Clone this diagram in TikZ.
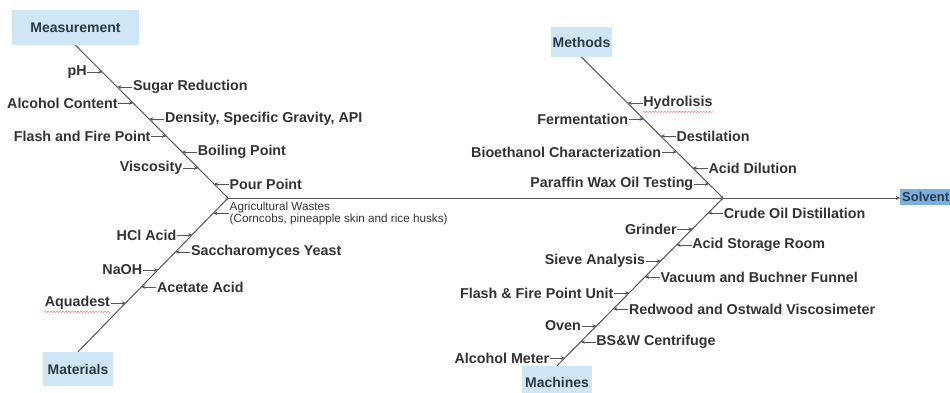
\documentclass[tikz,border=0pt]{standalone}
\usepackage{fontspec}
\setmainfont{Liberation Sans}
\usetikzlibrary{arrows.meta,calc,decorations.pathmorphing}
\definecolor{boxblue}{HTML}{CFE6F6}
\definecolor{solblue}{HTML}{78B0DF}
\definecolor{txt}{HTML}{333333}
\definecolor{catc}{HTML}{2B3A48}
\definecolor{ln}{HTML}{555555}
\newcommand\leftitem[4]{%
  \coordinate (#1t) at (#2,#3);
  \node[lbl,anchor=east] (#1) at (#2-15,#3) {#4};
  \draw[sub] (#1.east) -- (#1t);}
\newcommand\rightitem[4]{%
  \coordinate (#1t) at (#2,#3);
  \node[lbl,anchor=west] (#1) at (#2+15,#3) {#4};
  \draw[sub] (#1.west) -- (#1t);}
\begin{document}
\begin{tikzpicture}[x=1pt,y=-1pt,
  lbl/.style={font=\fontsize{14.3}{16}\selectfont\bfseries, text=txt, inner sep=0.5pt},
  cat/.style={fill=boxblue, font=\fontsize{14}{16}\selectfont\bfseries, text=catc, inner sep=0pt},
  bone/.style={draw=ln, line width=1pt},
  sub/.style={draw=ln, line width=0.8pt, -{Stealth[length=4pt,width=3.5pt]}},
  squig/.style={draw=red!55, line width=0.5pt, decorate, decoration={snake, amplitude=0.6pt, segment length=3pt}},
]
\useasboundingbox (0,0) rectangle (950,393);
\clip (0,0) rectangle (950,393);

% category boxes
\node[cat, minimum width=127pt, minimum height=35pt] (meas) at (75.5,27.5) {Measurement};
\node[cat, minimum width=61pt, minimum height=30pt] (meth) at (581.5,42) {Methods};
\node[cat, minimum width=70pt, minimum height=34pt] (mat) at (78,369) {Materials};
\node[cat, minimum width=70pt, minimum height=32pt] (mach) at (557,382) {Machines};
\node[cat, fill=solblue, anchor=west, minimum height=16pt, inner xsep=2pt,
      font=\fontsize{13}{15}\selectfont\bfseries] (solv) at (900,196.5) {Solvent};

% junctions
\coordinate (J1) at (228,198);
\coordinate (J2) at (723,198);

% bones and spine
\draw[bone, -{Stealth[length=3pt,width=3pt]}] (meas.south) -- (J1);
\draw[bone, -{Stealth[length=3pt,width=3pt]}] (mat.north) -- (J1);
\draw[bone, -{Stealth[length=3pt,width=3pt]}] (meth.south) -- (J2);
\draw[bone, -{Stealth[length=3pt,width=3pt]}] (mach.north) -- (J2);
\draw[bone, -{Stealth[length=4pt,width=4pt]}] (J1) -- (J1 -| solv.west);

% Measurement
\leftitem{ph}{102.4}{72}{pH}
\rightitem{sr}{117.4}{87}{Sugar Reduction}
\leftitem{ac}{133.3}{103}{Alcohol Content}
\rightitem{ds}{149.3}{119}{Density, Specific Gravity, API}
\leftitem{ff}{166.2}{136}{Flash and Fire Point}
\rightitem{bp}{182.1}{152}{Boiling Point}
\leftitem{vi}{198.1}{168}{Viscosity}
\rightitem{pp}{214.0}{184}{Pour Point}

% Materials
\coordinate (agt) at (213.4,213.5);
\node[font=\fontsize{11.7}{12}\selectfont, text=txt, align=left, anchor=west, inner sep=0.5pt] (ag) at (229,213.5)
  {Agricultural Wastes\\(Corncobs, pineapple skin and rice husks)};
\draw[sub] (ag.west) -- (agt);
\leftitem{hcl}{192.0}{235}{HCl Acid}
\rightitem{sy}{175.4}{252}{Saccharomyces Yeast}
\leftitem{na}{157.9}{270}{NaOH}
\rightitem{aa}{141.3}{287}{Acetate Acid}
\leftitem{aq}{125.7}{303}{Aquadest}

% Methods
\rightitem{hy}{627.7}{103}{Hydrolisis}
\leftitem{fe}{643.7}{119}{Fermentation}
\rightitem{de}{660.8}{136}{Destilation}
\leftitem{bc}{676.8}{152}{Bioethanol Characterization}
\rightitem{ad}{692.9}{168}{Acid Dilution}
\leftitem{pw}{708.9}{184}{Paraffin Wax Oil Testing}

% Machines
\rightitem{co}{708.2}{213}{Crude Oil Distillation}
\leftitem{gr}{692.4}{229}{Grinder}
\rightitem{as}{676.6}{245}{Acid Storage Room}
\leftitem{sa}{660.8}{261}{Sieve Analysis}
\rightitem{vb}{645.0}{277}{Vacuum and Buchner Funnel}
\leftitem{fu}{629.1}{293}{Flash \& Fire Point Unit}
\rightitem{rw}{613.3}{309}{Redwood and Ostwald Viscosimeter}
\leftitem{ov}{596.5}{326}{Oven}
\rightitem{bs}{580.7}{342}{BS\&W Centrifuge}
\leftitem{am}{564.9}{358}{Alcohol Meter}

% spell-check squiggles
\draw[squig] ([yshift=-1.5pt]aq.south west) -- ([yshift=-1.5pt]aq.south east);
\draw[squig] ([yshift=-1.5pt]hy.south west) -- ([yshift=-1.5pt]hy.south east);
\end{tikzpicture}
\end{document}
